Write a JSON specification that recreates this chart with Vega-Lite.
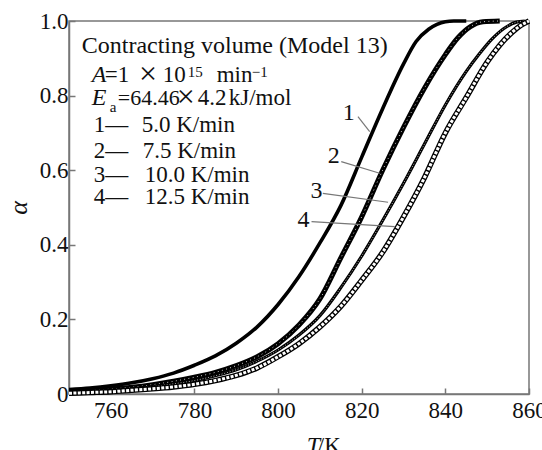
{
  "$schema": "https://vega.github.io/schema/vega-lite/v6.json",
  "width": 460,
  "height": 373,
  "autosize": {"type": "none"},
  "padding": {"left": 69, "top": 21, "right": 13, "bottom": 56},
  "background": "white",
  "config": {
    "font": "Liberation Serif",
    "view": {"stroke": "#777", "strokeWidth": 1.5},
    "axis": {"grid": false, "domainColor": "#777", "domainWidth": 1.5, "tickColor": "#777", "tickWidth": 1.5, "labelFont": "Liberation Serif", "labelFontSize": 23, "labelColor": "#111", "titleFont": "Liberation Serif", "labelFlush": false, "labelOverlap": false, "labelBound": false}
  },
  "datasets": {
    "curves": [
      {"curve": 1, "T": 750, "a": 0.012}, {"curve": 1, "T": 755, "a": 0.016}, {"curve": 1, "T": 760, "a": 0.022}, {"curve": 1, "T": 765, "a": 0.030}, {"curve": 1, "T": 770, "a": 0.041}, {"curve": 1, "T": 775, "a": 0.056}, {"curve": 1, "T": 780, "a": 0.077}, {"curve": 1, "T": 785, "a": 0.102}, {"curve": 1, "T": 790, "a": 0.136}, {"curve": 1, "T": 795, "a": 0.180}, {"curve": 1, "T": 800, "a": 0.240}, {"curve": 1, "T": 805, "a": 0.315}, {"curve": 1, "T": 810, "a": 0.405}, {"curve": 1, "T": 815, "a": 0.505}, {"curve": 1, "T": 820, "a": 0.635}, {"curve": 1, "T": 825, "a": 0.765}, {"curve": 1, "T": 830, "a": 0.885}, {"curve": 1, "T": 833, "a": 0.945}, {"curve": 1, "T": 836, "a": 0.978}, {"curve": 1, "T": 838, "a": 0.991}, {"curve": 1, "T": 840, "a": 0.998}, {"curve": 1, "T": 842, "a": 1.0}, {"curve": 1, "T": 845, "a": 1.0},
      {"curve": 2, "T": 750, "a": 0.006}, {"curve": 2, "T": 755, "a": 0.009}, {"curve": 2, "T": 760, "a": 0.013}, {"curve": 2, "T": 765, "a": 0.018}, {"curve": 2, "T": 770, "a": 0.025}, {"curve": 2, "T": 775, "a": 0.034}, {"curve": 2, "T": 780, "a": 0.045}, {"curve": 2, "T": 785, "a": 0.058}, {"curve": 2, "T": 790, "a": 0.076}, {"curve": 2, "T": 795, "a": 0.100}, {"curve": 2, "T": 800, "a": 0.135}, {"curve": 2, "T": 805, "a": 0.185}, {"curve": 2, "T": 810, "a": 0.255}, {"curve": 2, "T": 815, "a": 0.365}, {"curve": 2, "T": 820, "a": 0.475}, {"curve": 2, "T": 825, "a": 0.600}, {"curve": 2, "T": 830, "a": 0.715}, {"curve": 2, "T": 835, "a": 0.820}, {"curve": 2, "T": 840, "a": 0.910}, {"curve": 2, "T": 843, "a": 0.955}, {"curve": 2, "T": 846, "a": 0.985}, {"curve": 2, "T": 849, "a": 0.998}, {"curve": 2, "T": 853, "a": 1.0},
      {"curve": 3, "T": 750, "a": 0.004}, {"curve": 3, "T": 755, "a": 0.006}, {"curve": 3, "T": 760, "a": 0.009}, {"curve": 3, "T": 765, "a": 0.014}, {"curve": 3, "T": 770, "a": 0.020}, {"curve": 3, "T": 775, "a": 0.027}, {"curve": 3, "T": 780, "a": 0.036}, {"curve": 3, "T": 785, "a": 0.049}, {"curve": 3, "T": 790, "a": 0.065}, {"curve": 3, "T": 795, "a": 0.088}, {"curve": 3, "T": 800, "a": 0.118}, {"curve": 3, "T": 805, "a": 0.158}, {"curve": 3, "T": 810, "a": 0.210}, {"curve": 3, "T": 815, "a": 0.285}, {"curve": 3, "T": 820, "a": 0.370}, {"curve": 3, "T": 825, "a": 0.465}, {"curve": 3, "T": 830, "a": 0.565}, {"curve": 3, "T": 835, "a": 0.670}, {"curve": 3, "T": 840, "a": 0.775}, {"curve": 3, "T": 845, "a": 0.865}, {"curve": 3, "T": 848, "a": 0.910}, {"curve": 3, "T": 851, "a": 0.950}, {"curve": 3, "T": 854, "a": 0.980}, {"curve": 3, "T": 857, "a": 0.997}, {"curve": 3, "T": 859, "a": 1.0},
      {"curve": 4, "T": 750, "a": 0.002}, {"curve": 4, "T": 755, "a": 0.004}, {"curve": 4, "T": 760, "a": 0.006}, {"curve": 4, "T": 765, "a": 0.010}, {"curve": 4, "T": 770, "a": 0.014}, {"curve": 4, "T": 775, "a": 0.019}, {"curve": 4, "T": 780, "a": 0.026}, {"curve": 4, "T": 785, "a": 0.036}, {"curve": 4, "T": 790, "a": 0.050}, {"curve": 4, "T": 795, "a": 0.070}, {"curve": 4, "T": 800, "a": 0.100}, {"curve": 4, "T": 805, "a": 0.135}, {"curve": 4, "T": 810, "a": 0.180}, {"curve": 4, "T": 815, "a": 0.235}, {"curve": 4, "T": 820, "a": 0.305}, {"curve": 4, "T": 825, "a": 0.380}, {"curve": 4, "T": 830, "a": 0.475}, {"curve": 4, "T": 835, "a": 0.580}, {"curve": 4, "T": 840, "a": 0.700}, {"curve": 4, "T": 845, "a": 0.795}, {"curve": 4, "T": 850, "a": 0.890}, {"curve": 4, "T": 853, "a": 0.935}, {"curve": 4, "T": 856, "a": 0.970}, {"curve": 4, "T": 858, "a": 0.988}, {"curve": 4, "T": 860, "a": 1.0}
    ],
    "leaders": [
      {"T": 819.1, "a": 0.7434, "T2": 821.9, "a2": 0.7032},
      {"T": 815.1, "a": 0.6228, "T2": 824.3, "a2": 0.5917},
      {"T": 810.7, "a": 0.538, "T2": 826.3, "a2": 0.514},
      {"T": 808.0, "a": 0.462, "T2": 827.9, "a2": 0.4485}
    ],
    "curveLabels": [
      {"T": 816.9, "a": 0.7346, "text": "1"},
      {"T": 813.3, "a": 0.619, "text": "2"},
      {"T": 809.2, "a": 0.5247, "text": "3"},
      {"T": 806.1, "a": 0.4485, "text": "4"}
    ],
    "noteTitle": [
      {"T": 753.04, "a": 0.9142, "text": "Contracting volume (Model 13)"}
    ],
    "notesRoman": [
      {"T": 758.54, "a": 0.8365, "text": "=1"},
      {"T": 772.4, "a": 0.8365, "text": "10"},
      {"T": 785.32, "a": 0.8365, "text": "min"},
      {"T": 780.78, "a": 0.7748, "text": "4.2"},
      {"T": 788.2, "a": 0.7748, "text": "kJ/mol"},
      {"T": 755.91, "a": 0.7024, "text": "1—"},
      {"T": 767.39, "a": 0.7024, "text": "5.0 K/min"},
      {"T": 755.91, "a": 0.6327, "text": "2—"},
      {"T": 767.62, "a": 0.6327, "text": "7.5 K/min"},
      {"T": 755.91, "a": 0.5684, "text": "3—"},
      {"T": 768.1, "a": 0.5684, "text": "10.0 K/min"},
      {"T": 755.91, "a": 0.5094, "text": "4—"},
      {"T": 768.1, "a": 0.5094, "text": "12.5 K/min"},
      {"T": 809.5, "a": -0.158, "text": "/K"}
    ],
    "notesNarrow": [
      {"T": 761.65, "a": 0.7748, "text": "=64.46"}
    ],
    "notesTimes": [
      {"T": 768.9, "a": 0.8311, "text": "×"},
      {"T": 777.9, "a": 0.7694, "text": "×"}
    ],
    "notesItalic": [
      {"T": 755.43, "a": 0.8365, "text": "A"},
      {"T": 755.43, "a": 0.7748, "text": "E"},
      {"T": 806.85, "a": -0.158, "text": "T"}
    ],
    "notesSmall": [
      {"T": 778.4, "a": 0.8499, "text": "15"},
      {"T": 793.69, "a": 0.8499, "text": "−1"},
      {"T": 759.73, "a": 0.7568, "text": "a"}
    ]
  },
  "layer": [
    {
      "data": {"name": "curves"},
      "transform": [{"filter": "datum.curve == 1"}],
      "mark": {"type": "line", "color": "black", "strokeWidth": 3.6, "interpolate": "monotone"},
      "encoding": {
        "x": {"field": "T", "type": "quantitative", "scale": {"domain": [750, 860], "nice": false, "zero": false},
          "axis": {"values": [760, 780, 800, 820, 840, 860], "format": "d", "title": null, "tickSize": -6, "labelPadding": 11}},
        "y": {"field": "a", "type": "quantitative", "scale": {"domain": [0, 1], "nice": false},
          "axis": {"values": [0, 0.2, 0.4, 0.6, 0.8, 1], "labelExpr": "datum.value == 0 ? '0' : format(datum.value, '.1f')", "tickSize": -6, "labelPadding": 7, "title": "α", "titleFontStyle": "italic", "titleFontWeight": "normal", "titleFontSize": 26, "titleColor": "#111", "titlePadding": 8}}
      }
    },
    {
      "data": {"name": "curves"},
      "transform": [{"filter": "datum.curve == 2"}],
      "mark": {"type": "line", "color": "black", "strokeWidth": 5, "interpolate": "monotone"},
      "encoding": {"x": {"field": "T", "type": "quantitative"}, "y": {"field": "a", "type": "quantitative"}}
    },
    {
      "data": {"name": "curves"},
      "transform": [{"filter": "datum.curve == 2"}],
      "mark": {"type": "line", "color": "white", "strokeWidth": 1, "strokeDash": [0.8, 3.5], "interpolate": "monotone"},
      "encoding": {"x": {"field": "T", "type": "quantitative"}, "y": {"field": "a", "type": "quantitative"}}
    },
    {
      "data": {"name": "curves"},
      "transform": [{"filter": "datum.curve == 3"}],
      "mark": {"type": "line", "color": "black", "strokeWidth": 3.2, "interpolate": "monotone"},
      "encoding": {"x": {"field": "T", "type": "quantitative"}, "y": {"field": "a", "type": "quantitative"}}
    },
    {
      "data": {"name": "curves"},
      "transform": [{"filter": "datum.curve == 3"}],
      "mark": {"type": "line", "color": "white", "strokeWidth": 0.7, "strokeDash": [1, 1.8], "interpolate": "monotone"},
      "encoding": {"x": {"field": "T", "type": "quantitative"}, "y": {"field": "a", "type": "quantitative"}}
    },
    {
      "data": {"name": "curves"},
      "transform": [{"filter": "datum.curve == 4"}],
      "mark": {"type": "line", "color": "black", "strokeWidth": 5.5, "interpolate": "monotone"},
      "encoding": {"x": {"field": "T", "type": "quantitative"}, "y": {"field": "a", "type": "quantitative"}}
    },
    {
      "data": {"name": "curves"},
      "transform": [{"filter": "datum.curve == 4"}],
      "mark": {"type": "line", "color": "white", "strokeWidth": 3, "strokeDash": [3, 1.4], "interpolate": "monotone"},
      "encoding": {"x": {"field": "T", "type": "quantitative"}, "y": {"field": "a", "type": "quantitative"}}
    },
    {
      "data": {"name": "leaders"},
      "mark": {"type": "rule", "color": "#777", "strokeWidth": 1.2},
      "encoding": {"x": {"field": "T", "type": "quantitative"}, "y": {"field": "a", "type": "quantitative"}, "x2": {"field": "T2"}, "y2": {"field": "a2"}}
    },
    {
      "data": {"name": "curveLabels"},
      "mark": {"type": "text", "font": "Liberation Serif", "fontSize": 24, "color": "#111", "align": "center", "baseline": "alphabetic"},
      "encoding": {"x": {"field": "T", "type": "quantitative"}, "y": {"field": "a", "type": "quantitative"}, "text": {"field": "text"}}
    },
    {
      "data": {"name": "noteTitle"},
      "mark": {"type": "text", "font": "Liberation Serif", "fontSize": 24, "color": "#111", "align": "left", "baseline": "alphabetic"},
      "encoding": {"x": {"field": "T", "type": "quantitative"}, "y": {"field": "a", "type": "quantitative"}, "text": {"field": "text"}}
    },
    {
      "data": {"name": "notesRoman"},
      "mark": {"type": "text", "font": "Liberation Serif", "fontSize": 23, "color": "#111", "align": "left", "baseline": "alphabetic"},
      "encoding": {"x": {"field": "T", "type": "quantitative"}, "y": {"field": "a", "type": "quantitative"}, "text": {"field": "text"}}
    },
    {
      "data": {"name": "notesNarrow"},
      "mark": {"type": "text", "font": "Liberation Serif", "fontSize": 22, "color": "#111", "align": "left", "baseline": "alphabetic"},
      "encoding": {"x": {"field": "T", "type": "quantitative"}, "y": {"field": "a", "type": "quantitative"}, "text": {"field": "text"}}
    },
    {
      "data": {"name": "notesTimes"},
      "mark": {"type": "text", "font": "Liberation Serif", "fontSize": 32, "color": "#111", "align": "center", "baseline": "alphabetic"},
      "encoding": {"x": {"field": "T", "type": "quantitative"}, "y": {"field": "a", "type": "quantitative"}, "text": {"field": "text"}}
    },
    {
      "data": {"name": "notesItalic"},
      "mark": {"type": "text", "font": "Liberation Serif", "fontSize": 24, "fontStyle": "italic", "color": "#111", "align": "left", "baseline": "alphabetic"},
      "encoding": {"x": {"field": "T", "type": "quantitative"}, "y": {"field": "a", "type": "quantitative"}, "text": {"field": "text"}}
    },
    {
      "data": {"name": "notesSmall"},
      "mark": {"type": "text", "font": "Liberation Serif", "fontSize": 15, "color": "#111", "align": "left", "baseline": "alphabetic"},
      "encoding": {"x": {"field": "T", "type": "quantitative"}, "y": {"field": "a", "type": "quantitative"}, "text": {"field": "text"}}
    }
  ]
}
